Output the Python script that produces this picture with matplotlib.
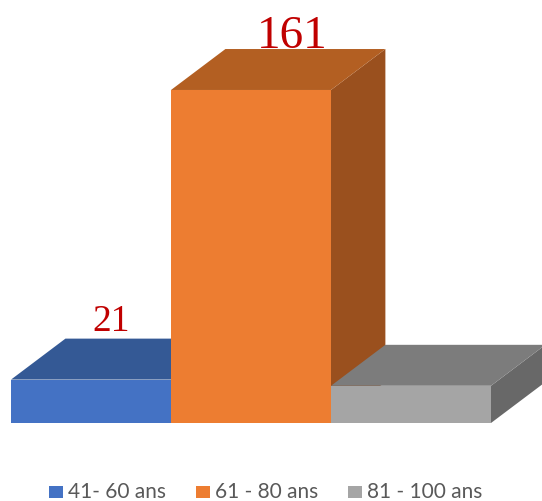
import matplotlib.pyplot as plt
from matplotlib.patches import Polygon, Rectangle

# age groups and counts
categories = ["41- 60 ans", "61 - 80 ans", "81 - 100 ans"]
counts = [21, 161, 18]
show_label = [True, True, False]

front_colors = ["#4472C4", "#ED7D31", "#A5A5A5"]
top_colors = ["#345995", "#B35F22", "#7C7C7C"]
side_colors = ["#2A4A80", "#9A501E", "#686868"]

# 3D depth of each box, in data units
dx, dy = 0.34, 19.8
width = 1.0

fig = plt.figure(figsize=(5.42, 5.01), dpi=100)
ax = fig.add_axes([0, 0, 1, 1])
ax.set_xlim(-0.569, 2.819)
ax.set_ylim(-37.7, 204.5)
ax.axis("off")

label_dx = [0.125, 0.256, 0.2]
label_dy = [3.5, 0.5, 3.0]
label_size = [27, 34, 27]

for i, (v, fc, tc, sc) in enumerate(zip(counts, front_colors, top_colors, side_colors)):
    x0, x1 = i - width / 2, i + width / 2
    top = Polygon([(x0, v), (x1, v), (x1 + dx, v + dy), (x0 + dx, v + dy)],
                  closed=True, facecolor=tc, edgecolor="none", zorder=2 + i)
    side = Polygon([(x1, 0), (x1 + dx, dy), (x1 + dx, v + dy), (x1, v)],
                   closed=True, facecolor=sc, edgecolor="none", zorder=2 + i)
    ax.add_patch(side)
    ax.add_patch(top)
    ax.bar(i, v, width=width, color=fc, edgecolor="none", zorder=2.5 + i)
    if show_label[i]:
        ax.text(i + label_dx[i], v + dy + label_dy[i], str(v),
                ha="center", va="baseline", color="#C00000",
                fontsize=label_size[i], family="Liberation Serif", zorder=10)

# legend row under the chart
legend_x = [0.091, 0.3625, 0.6425]
for lx, name, c in zip(legend_x, categories, front_colors):
    fig.patches.append(Rectangle((lx, 0.0054), 0.0247, 0.0252, transform=fig.transFigure,
                                 facecolor=c, edgecolor="none"))
    fig.text(lx + 0.035, 0.006, name, ha="left", va="baseline",
             fontsize=15, color="#595959", family="Lato")

fig.savefig("out.png", dpi=100)
